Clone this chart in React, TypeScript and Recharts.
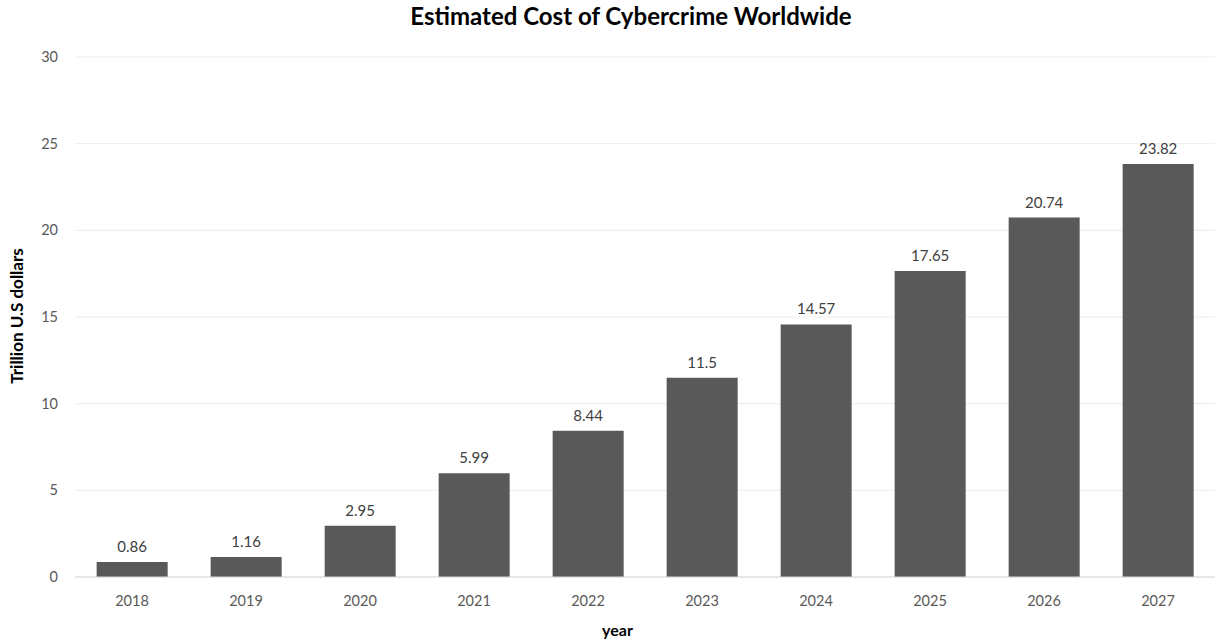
import { Bar, BarChart, CartesianGrid, LabelList, XAxis, YAxis } from "recharts";

const years = ["2018", "2019", "2020", "2021", "2022", "2023", "2024", "2025", "2026", "2027"];
const costs = [0.86, 1.16, 2.95, 5.99, 8.44, 11.5, 14.57, 17.65, 20.74, 23.82];
const yTicks = [0, 5, 10, 15, 20, 25, 30];

const data = years.map((year, i) => ({ year, cost: costs[i] }));

const FONT = "Lato, 'Open Sans', sans-serif";

export default function App() {
  return (
    <div style={{ position: "absolute", left: 0, top: 0, width: 1215, height: 642, background: "#fff", fontFamily: FONT }}>
      <div
        style={{
          position: "absolute",
          top: 1,
          left: 0,
          width: 1262,
          textAlign: "center",
          fontSize: 24,
          fontWeight: 700,
          color: "#000",
        }}
      >
        Estimated Cost of Cybercrime Worldwide
      </div>
      <BarChart
        width={1215}
        height={642}
        data={data}
        margin={{ top: 57, right: 0, bottom: 0, left: 0 }}
        barCategoryGap="19%"
      >
        <CartesianGrid vertical={false} stroke="#ececec" />
        <XAxis
          dataKey="year"
          height={65}
          tickLine={false}
          axisLine={{ stroke: "#d9d9d9" }}
          tickSize={8}
          tickMargin={11}
          tick={{ fill: "#595959", fontSize: 14.5, fontFamily: FONT }}
        />
        <YAxis
          width={75}
          domain={[0, 30]}
          ticks={yTicks}
          tickLine={false}
          axisLine={false}
          tickSize={8}
          tickMargin={9}
          tick={{ fill: "#595959", fontSize: 14.5, fontFamily: FONT }}
        />
        <Bar dataKey="cost" fill="#595959" isAnimationActive={false}>
          <LabelList
            dataKey="cost"
            position="top"
            offset={10}
            fill="#404040"
            fontSize={15}
            fontFamily={FONT}
          />
        </Bar>
      </BarChart>
      <div
        style={{
          position: "absolute",
          left: 16,
          top: 316,
          transform: "translate(-50%, -50%) rotate(-90deg)",
          whiteSpace: "nowrap",
          fontSize: 17,
          fontWeight: 700,
          color: "#000",
        }}
      >
        Trillion U.S dollars
      </div>
      <div
        style={{
          position: "absolute",
          left: 0,
          width: 1235,
          top: 620,
          textAlign: "center",
          fontSize: 16,
          fontWeight: 700,
          color: "#000",
        }}
      >
        year
      </div>
    </div>
  );
}
